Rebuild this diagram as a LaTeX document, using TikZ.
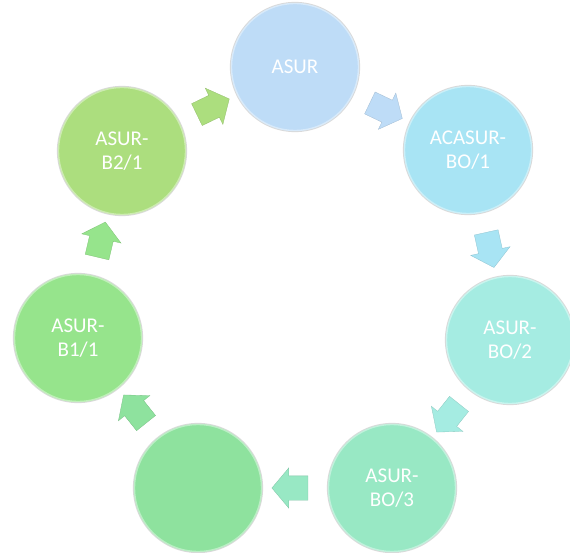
\documentclass[tikz,border=0pt]{standalone}
\usepackage{fontspec}
\setmainfont{Carlito}
\usetikzlibrary{shapes.arrows}

\definecolor{asurcol}{RGB}{190,220,247}
\definecolor{acasurcol}{RGB}{168,228,244}
\definecolor{botwocol}{RGB}{165,236,226}
\definecolor{bothreecol}{RGB}{152,232,196}
\definecolor{blankcol}{RGB}{142,226,158}
\definecolor{bonecol}{RGB}{150,228,140}
\definecolor{btwocol}{RGB}{172,222,126}

\tikzset{
  stage/.style={circle, minimum size=127pt, inner sep=0pt, fill=#1,
    draw=#1!60!white, line width=1.4pt, preaction={draw=gray!30, line width=3.2pt},
    text=white, align=center, font=\fontsize{21}{23.5}\selectfont},
  flowarrow/.style={single arrow, sloped, allow upside down, fill=#1,
    draw=#1!85!black, line width=0.3pt, inner xsep=0pt, inner ysep=12pt,
    minimum height=36pt, single arrow head extend=8pt, single arrow tip angle=100}
}

\begin{document}
\begin{tikzpicture}[x=1pt, y=-1pt]
    % Keep the page the size of the picture
    \useasboundingbox (0,0) rectangle (570,553);

    % The seven stages round the circle
    \node[stage=asurcol] (asur) at (295,67) {ASUR};
    \node[stage=acasurcol] (acasur) at (468,150) {ACASUR-\\BO/1};
    \node[stage=botwocol] (bo2) at (510,340) {ASUR-\\BO/2};
    \node[stage=bothreecol] (bo3) at (392,488) {ASUR-\\BO/3};
    \node[stage=blankcol] (blank) at (198,488) {};
    \node[stage=bonecol] (b11) at (78,338) {ASUR-\\B1/1};
    \node[stage=btwocol] (b21) at (122,151) {ASUR-\\B2/1};

    % Block arrows half way between the stages
    \path (asur) -- node[flowarrow=asurcol] (a1) {} (acasur);
    \path (acasur) -- node[flowarrow=acasurcol] (a2) {} (bo2);
    \path (bo2) -- node[flowarrow=botwocol] (a3) {} (bo3);
    \path (bo3) -- node[flowarrow=bothreecol] (a4) {} (blank);
    \path (blank) -- node[flowarrow=blankcol] (a5) {} (b11);
    \path (b11) -- node[flowarrow=bonecol] (a6) {} (b21);
    \path (b21) -- node[flowarrow=btwocol] (a7) {} (asur);
\end{tikzpicture}
\end{document}
